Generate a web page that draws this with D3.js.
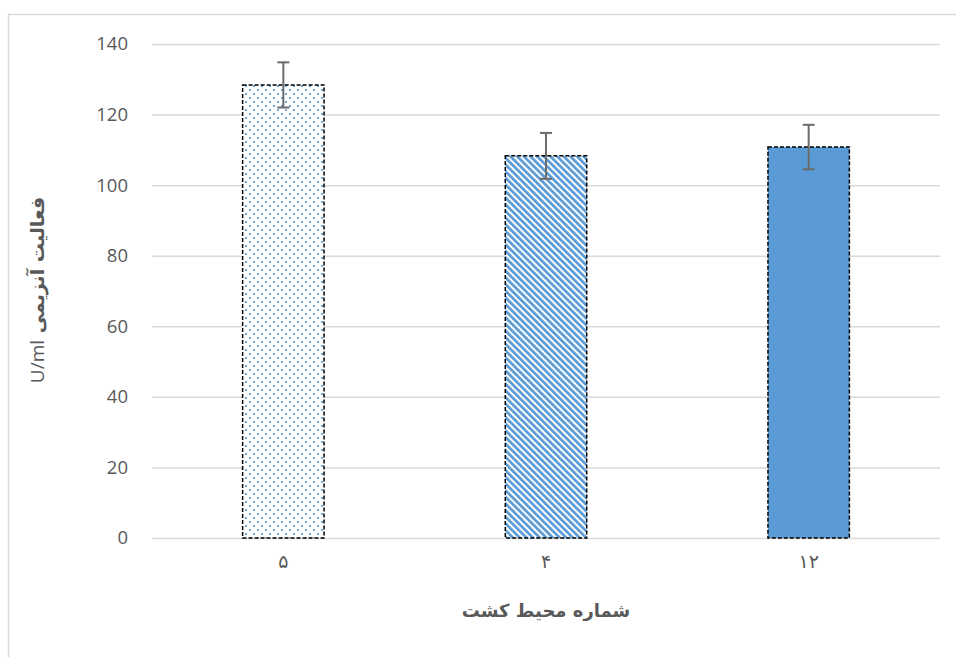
<!DOCTYPE html>
<html><head><meta charset="utf-8">
<script src="https://cdn.jsdelivr.net/npm/d3@7"></script>
<style>body{margin:0;background:#fff}svg{display:block}</style>
</head><body>
<script>
const categories = ["۵", "۴", "۱۲"];
const values = [128.4, 108.3, 110.8];
const errors = [6.4, 6.5, 6.3];
const yTicks = [0, 20, 40, 60, 80, 100, 120, 140];
const fills = ["url(#dots)", "url(#stripes)", "#5b9bd5"];
const xTitle = "شماره محیط کشت";
const yTitlePersian = "فعالیت آنزیمی";
const yTitleUnit = "U/ml";

(function(){
const W = 956, H = 657;
const svg = d3.select("body").append("svg").attr("width", W).attr("height", H);
const defs = svg.append("defs");
const dp = defs.append("pattern").attr("id","dots").attr("patternUnits","userSpaceOnUse").attr("width",8).attr("height",8);
dp.append("rect").attr("width",8).attr("height",8).attr("fill","#fff");
dp.append("rect").attr("x",1).attr("y",1).attr("width",2).attr("height",2).attr("fill","#6fa8dc");
dp.append("rect").attr("x",5).attr("y",5).attr("width",2).attr("height",2).attr("fill","#6fa8dc");
const sp = defs.append("pattern").attr("id","stripes").attr("patternUnits","userSpaceOnUse").attr("width",4.7).attr("height",10).attr("patternTransform","rotate(-45)");
sp.append("rect").attr("width",4.7).attr("height",10).attr("fill","#fff");
sp.append("rect").attr("width",2.7).attr("height",10).attr("fill","#5b9bd5");

svg.append("rect").attr("x",8.5).attr("y",14.5).attr("width",W).attr("height",H).attr("fill","none").attr("stroke","#d9d9d9").attr("stroke-width",1.5);

const pl = 152, pr = 940, pt = 44, pb = 538;
const x = d3.scaleBand().domain(categories).range([pl, pr]).paddingInner(0.69).paddingOuter(0.345);
const y = d3.scaleLinear().domain([0, 140]).range([pb, pt]);

const yAxis = svg.append("g").attr("transform",`translate(${pl},0)`)
  .call(d3.axisLeft(y).tickValues(yTicks).tickSize(-(pr-pl)).tickPadding(24));
yAxis.select(".domain").remove();
yAxis.selectAll(".tick line").attr("stroke","#d9d9d9").attr("stroke-width",1.5);
yAxis.selectAll(".tick text").attr("fill","#595959").attr("font-family","'Open Sans', 'Liberation Sans', sans-serif").attr("font-size",18.5);

svg.selectAll("rect.bar").data(values).join("rect").attr("class","bar")
  .attr("x",(d,i)=>x(categories[i])).attr("width",x.bandwidth())
  .attr("y",d=>y(d)).attr("height",d=>y(0)-y(d))
  .attr("fill",(d,i)=>fills[i]).attr("stroke","#000").attr("stroke-width",1.5).attr("stroke-dasharray","4,2");

const eg = svg.append("g").attr("stroke","#6b6b6b").attr("stroke-width",2);
values.forEach((v,i)=>{
  const cx = x(categories[i]) + x.bandwidth()/2;
  eg.append("line").attr("x1",cx).attr("x2",cx).attr("y1",y(v+errors[i])).attr("y2",y(v-errors[i]));
  eg.append("line").attr("x1",cx-6).attr("x2",cx+6).attr("y1",y(v+errors[i])).attr("y2",y(v+errors[i]));
  eg.append("line").attr("x1",cx-6).attr("x2",cx+6).attr("y1",y(v-errors[i])).attr("y2",y(v-errors[i]));
});

const xAxis = svg.append("g").attr("transform",`translate(0,${pb})`)
  .call(d3.axisBottom(x).tickSize(0).tickPadding(17));
xAxis.select(".domain").remove();
xAxis.selectAll(".tick text").attr("fill","#595959").attr("font-family","'DejaVu Sans', sans-serif").attr("font-size",19);

svg.append("text").attr("x",(pl+pr)/2).attr("y",617).attr("text-anchor","middle")
  .attr("fill","#595959").attr("font-family","'DejaVu Sans', sans-serif").attr("font-size",18).attr("font-weight","bold")
  .attr("direction","rtl").text(xTitle);

const yt = svg.append("text").attr("transform","translate(44,290) rotate(-90)").attr("text-anchor","middle")
  .attr("fill","#595959").attr("font-family","'DejaVu Sans', sans-serif").attr("font-size",19).attr("direction","rtl");
yt.append("tspan").attr("font-weight","bold").text(yTitlePersian + " ");
yt.append("tspan").attr("font-family","'Open Sans', sans-serif").text(yTitleUnit);
})();
</script>
</body></html>
